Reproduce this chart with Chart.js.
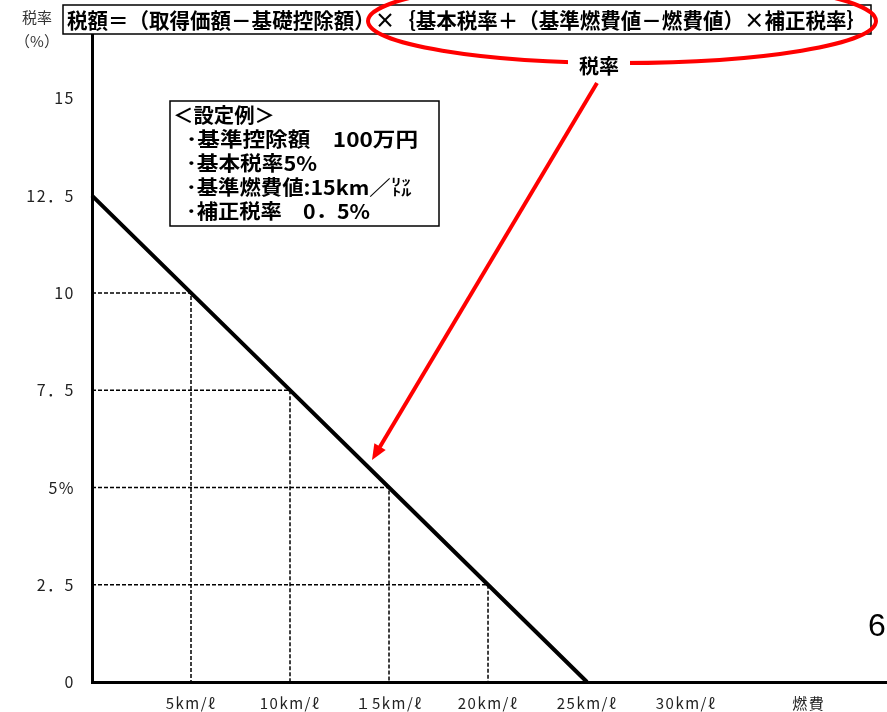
<!DOCTYPE html>
<html>
<head>
<meta charset="utf-8">
<script src="https://cdn.jsdelivr.net/npm/chart.js@4"></script>
<style>
  body { margin: 0; background: #fff; }
  #wrap { width: 887px; height: 712px; position: relative; }
</style>
</head>
<body>
<div id="wrap"><canvas id="TaxChart"></canvas></div>
<script>
// data
const fuelKm = [0, 5, 10, 15, 20, 25];
const taxRate = [12.5, 10, 7.5, 5, 2.5, 0];
const yTicks = [0, 2.5, 5, 7.5, 10, 12.5, 15];
const yTickLabels = ["0", "2．5", "5%", "7．5", "10", "12．5", "15"];
const xTicks = [5, 10, 15, 20, 25, 30, 36.2];
const xTickLabels = ["5km/ℓ", "10km/ℓ", "１5km/ℓ", "20km/ℓ", "25km/ℓ", "30km/ℓ", "燃費"];

const jp = '"Noto Sans CJK JP", "Noto Sans", sans-serif';

// dashed guides from each point on the line to both axes
const guides = [];
for (let i = 1; i < fuelKm.length - 1; i++) {
  guides.push({
    data: [
      { x: 0, y: taxRate[i] },
      { x: fuelKm[i], y: taxRate[i] },
      { x: fuelKm[i], y: 0 },
    ],
    showLine: true,
    borderColor: "#000",
    borderWidth: 1.5,
    borderDash: [4, 2],
    pointRadius: 0,
    tension: 0,
  });
}

const data = {
  datasets: [
    {
      data: fuelKm.map((x, i) => ({ x: x, y: taxRate[i] })),
      showLine: true,
      borderColor: "#000",
      borderWidth: 4,
      pointRadius: 0,
      clip: false,
    },
    ...guides,
  ],
};

// draw text squeezed/stretched to a given width
function fitText(ctx, text, x, y, w) {
  const m = ctx.measureText(text).width;
  ctx.save();
  ctx.translate(x, y);
  ctx.scale(w / m, 1);
  ctx.fillText(text, 0, 0);
  ctx.restore();
}

// wider letter spacing for the tick labels
const spacing = {
  id: "spacing",
  beforeDraw(chart) { chart.ctx.letterSpacing = "1.5px"; },
  afterDraw(chart) { chart.ctx.letterSpacing = "0px"; },
};

// extra drawings: formula box, example box, red ellipse and arrow
const annotate = {
  id: "annotate",
  afterDraw(chart) {
    const ctx = chart.ctx;
    ctx.save();
    ctx.letterSpacing = "0px";

    // y axis title
    ctx.fillStyle = "#333";
    ctx.font = "15px " + jp;
    ctx.textAlign = "center";
    ctx.textBaseline = "middle";
    ctx.fillText("税率", 37, 17);
    ctx.fillText("（%）", 37, 41);

    // formula box
    ctx.fillStyle = "#fff";
    ctx.fillRect(63, 5, 808, 29);
    ctx.strokeStyle = "#000";
    ctx.lineWidth = 1.5;
    ctx.strokeRect(63, 5, 808, 29);
    ctx.fillStyle = "#000";
    ctx.font = "bold 21px " + jp;
    ctx.textAlign = "left";
    fitText(ctx, "税額＝（取得価額－基礎控除額）×｛基本税率＋（基準燃費値－燃費値）×補正税率｝", 67, 20, 800);

    // example box
    ctx.lineWidth = 1.5;
    ctx.strokeRect(170, 101, 269, 125);
    ctx.font = "bold 20px " + jp;
    fitText(ctx, "＜設定例＞", 173, 115, 102);
    fitText(ctx, "･基準控除額　100万円", 186, 139, 232);
    fitText(ctx, "･基本税率5%", 186, 163, 131);
    fitText(ctx, "･基準燃費値:15km／㍑", 186, 187, 226);
    fitText(ctx, "･補正税率　0．5%", 186, 211, 184);

    // red ellipse around the tax rate part
    ctx.strokeStyle = "#f00";
    ctx.lineWidth = 4;
    ctx.beginPath();
    ctx.ellipse(622, 21, 254, 42, 0, 0, Math.PI * 2);
    ctx.stroke();
    ctx.fillStyle = "#fff";
    ctx.fillRect(568, 52, 62, 24);
    ctx.fillStyle = "#000";
    ctx.font = "bold 20px " + jp;
    ctx.textAlign = "center";
    ctx.fillText("税率", 599, 66);

    // arrow
    const x1 = 597, y1 = 83, x2 = 372, y2 = 460;
    const ang = Math.atan2(y2 - y1, x2 - x1);
    ctx.strokeStyle = "#f00";
    ctx.lineWidth = 4;
    ctx.beginPath();
    ctx.moveTo(x1, y1);
    ctx.lineTo(x2 - 10 * Math.cos(ang), y2 - 10 * Math.sin(ang));
    ctx.stroke();
    ctx.fillStyle = "#f00";
    ctx.beginPath();
    ctx.moveTo(x2, y2);
    ctx.lineTo(x2 - 17 * Math.cos(ang - 0.4), y2 - 17 * Math.sin(ang - 0.4));
    ctx.lineTo(x2 - 17 * Math.cos(ang + 0.4), y2 - 17 * Math.sin(ang + 0.4));
    ctx.closePath();
    ctx.fill();

    // page number
    ctx.fillStyle = "#000";
    ctx.font = '32px "Liberation Sans", Arial, sans-serif';
    ctx.fillText("6", 877, 627);

    ctx.restore();
  },
};

// config
const config = {
  type: "scatter",
  data,
  options: {
    responsive: true,
    maintainAspectRatio: false,
    animation: false,
    layout: { padding: { top: 33, right: 0, bottom: 0, left: 0 } },
    plugins: {
      legend: { display: false },
      tooltip: { enabled: false },
    },
    scales: {
      x: {
        type: "linear",
        min: 0,
        max: 40.15,
        grid: { display: false, drawTicks: false },
        border: { color: "#000", width: 3 },
        afterBuildTicks: (s) => { s.ticks = xTicks.map((v) => ({ value: v })); },
        afterFit: (s) => { s.height = 30; },
        ticks: {
          autoSkip: false,
          maxRotation: 0,
          padding: 12,
          color: "#222",
          font: { family: jp, size: 15 },
          callback: (v, i) => xTickLabels[i],
        },
      },
      y: {
        type: "linear",
        min: 0,
        max: 16.68,
        grid: { display: false, drawTicks: false },
        border: { color: "#000", width: 3 },
        afterBuildTicks: (s) => { s.ticks = yTicks.map((v) => ({ value: v })); },
        afterFit: (s) => { s.width = 92; },
        ticks: {
          padding: 17,
          color: "#222",
          font: { family: jp, size: 16 },
          callback: (v, i) => yTickLabels[i],
        },
      },
    },
  },
  plugins: [spacing, annotate],
};

// render init block
const TaxChart = new Chart(document.getElementById("TaxChart"), config);
</script>
</body>
</html>
